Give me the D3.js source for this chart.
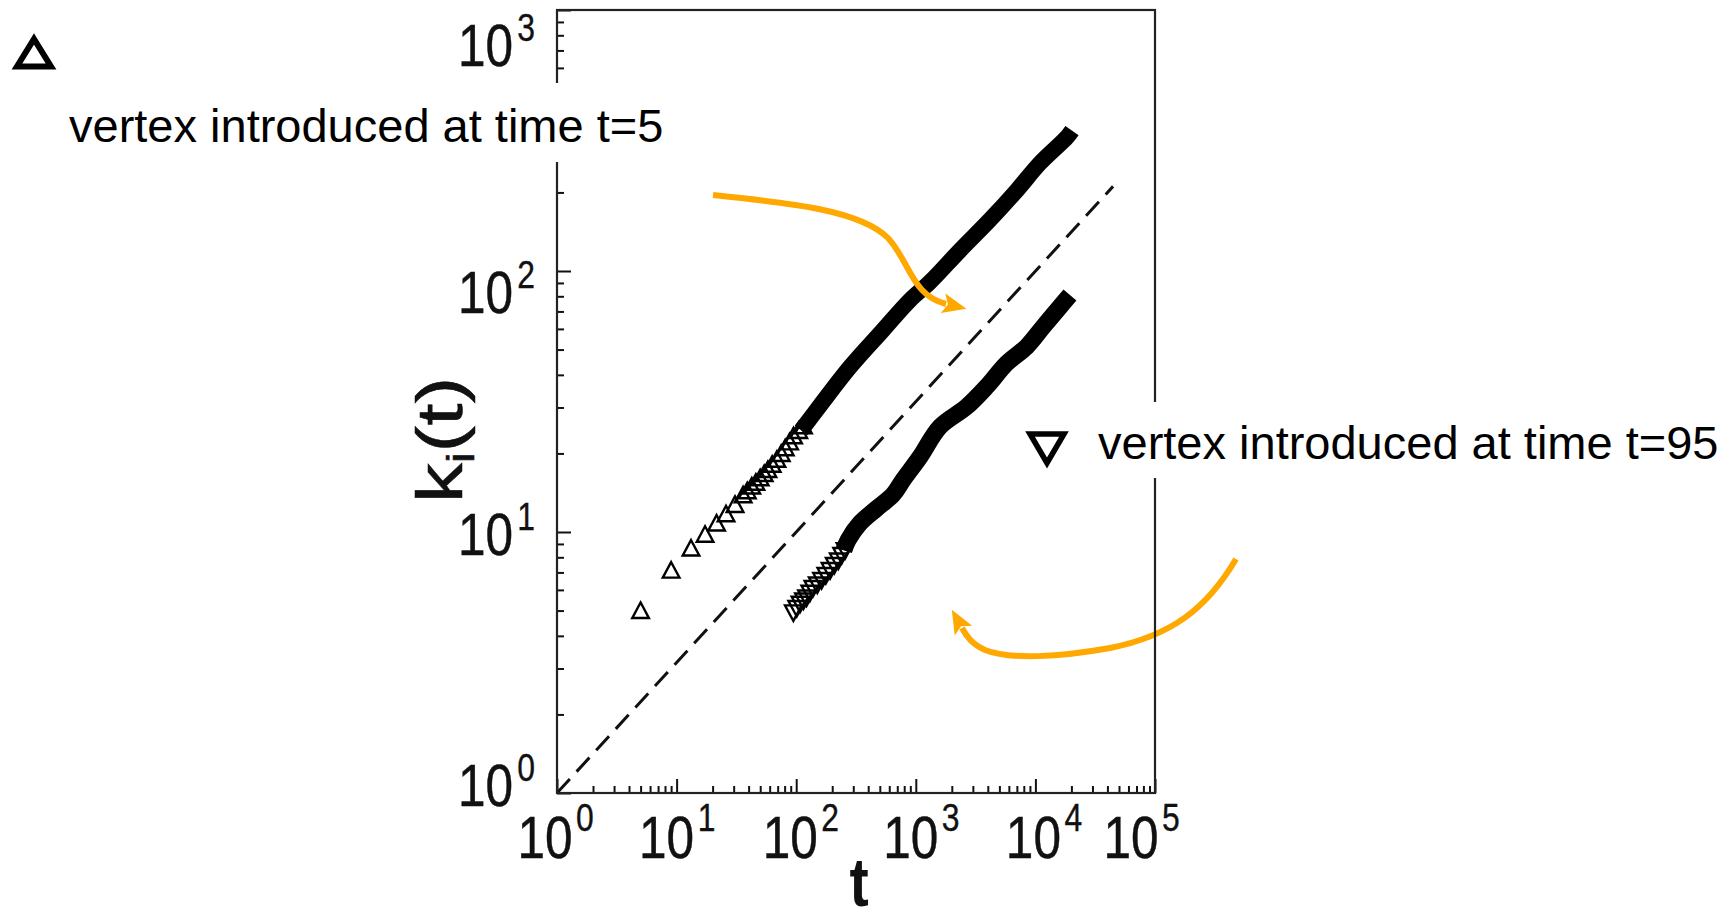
<!DOCTYPE html>
<html><head><meta charset="utf-8">
<script src="https://cdn.jsdelivr.net/npm/d3@7"></script>
<style>body{margin:0;background:#fff;} svg{display:block;font-family:"Liberation Sans",Arial,sans-serif;}</style>
</head><body>
<svg id="c" width="1735" height="921"></svg>
<script>
// ---------- data ----------
const xTickExps = [0, 1, 2, 3, 4, 5];
const yTickExps = [0, 1, 2, 3];
// vertex introduced at t=5 : individual markers (t, k)
const earlyMarkers = [[5,4.9],[9,7.0],[13.2,8.5],[17.3,9.6],[21.6,10.6],[25.9,11.5],[30.8,12.5],
  [36,13.6],[39,14.1],[42.5,14.7],[46,15.2],[50,15.8],[54,16.4],[58,17.0],[63,17.8],[69,18.6],
  [75,19.6],[81,20.6],[88,21.7],[95,22.9],[105,24.0],[115,25.0]];
// vertex introduced at t=5 : dense (overlapping markers) band centre (t, k)
const earlyBand = [[110,24.5],[158,30.5],[282,42.9],[532,59.4],[895,77.4],[1315,90.7],[2343,120],
  [4170,157],[7015,204],[10920,259],[18370,326],[20230,345]];
// vertex introduced at t=95 : individual markers
const lateMarkers = [[94.6,5.0],[101,5.2],[107.6,5.4],[115,5.55],[122,5.7],[130,5.95],[138,6.2],
  [150,6.4],[163,6.65],[177,6.95],[192,7.26],[208,7.6],[225,7.9],[240,8.3],[256,8.66]];
const lateBand = [[250,8.5],[271,9.3],[341,10.8],[471,12.3],[645,13.9],[781,15.8],[1084,19.4],
  [1593,25.3],[2667,30.2],[3920,36.1],[5757,44.3],[8455,51.3],[11640,61.2],[16060,73.0],[19450,80.9]];
// dashed reference line k ~ t^0.5
const refLine = [[1,1],[44600,211]];
const labelEarly = "vertex introduced at time t=5";
const labelLate = "vertex introduced at time t=95";
const xAxisTitle = "t";

// ---------- layout ----------
const L = 557, R = 1155, T = 10, B = 793;
const svg = d3.select("#c");
const x = d3.scaleLog().domain([1, 1e5]).range([L, R]);
const y = d3.scaleLog().domain([1, 1e3]).range([B, T]);
const ink = "#111";
const orange = "#FFA800";

const majorX = xTickExps.map(e => Math.pow(10, e));
const majorY = yTickExps.map(e => Math.pow(10, e));
const minorX = [], minorY = [];
xTickExps.slice(0, -1).forEach(e => { for (let m = 2; m <= 9; m++) minorX.push(m * Math.pow(10, e)); });
yTickExps.slice(0, -1).forEach(e => { for (let m = 2; m <= 9; m++) minorY.push(m * Math.pow(10, e)); });

// ---------- data marks ----------
const line = d3.line().x(d => x(d[0])).y(d => y(d[1]));
const smooth = d3.line().x(d => x(d[0])).y(d => y(d[1])).curve(d3.curveCatmullRom.alpha(0.5));

svg.append("path").attr("d", line(refLine))
  .attr("fill", "none").attr("stroke", ink).attr("stroke-width", 3)
  .attr("stroke-dasharray", "19,10");

svg.append("path").attr("d", smooth(earlyBand))
  .attr("fill", "none").attr("stroke", "#000").attr("stroke-width", 16)
  .attr("stroke-linejoin", "round").attr("stroke-linecap", "butt");
svg.append("path").attr("d", smooth(lateBand))
  .attr("fill", "none").attr("stroke", "#000").attr("stroke-width", 17)
  .attr("stroke-linejoin", "round").attr("stroke-linecap", "butt");

const tri = d3.symbol().type(d3.symbolTriangle).size(120);
svg.append("g").selectAll("path").data(earlyMarkers).join("path")
  .attr("d", tri)
  .attr("transform", d => `translate(${x(d[0])},${y(d[1])}) scale(1,1.08)`)
  .attr("fill", "none").attr("stroke", "#000").attr("stroke-width", 2.3);
svg.append("g").selectAll("path").data(lateMarkers).join("path")
  .attr("d", tri)
  .attr("transform", d => `translate(${x(d[0])},${y(d[1])}) rotate(180) scale(1,1.08)`)
  .attr("fill", "none").attr("stroke", "#000").attr("stroke-width", 2.3);

// ---------- orange arrows ----------
const defs = svg.append("defs");
defs.append("marker").attr("id", "ah").attr("markerUnits", "userSpaceOnUse")
  .attr("markerWidth", 30).attr("markerHeight", 26).attr("refX", 3).attr("refY", 12)
  .attr("orient", "auto").attr("viewBox", "0 0 30 24")
  .append("path").attr("d", "M0,2 L24,12 L0,22 L5,12 Z").attr("fill", orange);

svg.append("path")
  .attr("d", "M713,195 C790,203 860,210 888,238 C910,262 912,296 946,304")
  .attr("fill", "none").attr("stroke", orange).attr("stroke-width", 6)
  .attr("marker-end", "url(#ah)");
svg.append("path")
  .attr("d", "M1236,559 C1206,610 1170,636 1110,648 C1060,657 1010,660 985,650 C972,644 967,637 962,628")
  .attr("fill", "none").attr("stroke", orange).attr("stroke-width", 6)
  .attr("marker-end", "url(#ah)");

// ---------- axes ----------
const axG = svg.append("g");
function addAxis(gen, ticks, size, transform) {
  const g = axG.append("g").attr("transform", transform)
    .call(gen.tickValues(ticks).tickSize(-size).tickSizeOuter(0).tickFormat(""));
  g.select(".domain").remove();
  g.selectAll(".tick line").attr("stroke", ink).attr("stroke-width", 2);
}
addAxis(d3.axisBottom(x), majorX, 14, `translate(0,${B})`);
addAxis(d3.axisBottom(x), minorX, 7, `translate(0,${B})`);
addAxis(d3.axisLeft(y), majorY, 14, `translate(${L},0)`);
addAxis(d3.axisLeft(y), minorY, 7, `translate(${L},0)`);
axG.append("rect").attr("x", L).attr("y", T).attr("width", R - L).attr("height", B - T)
  .attr("fill", "none").attr("stroke", "#222").attr("stroke-width", 2.2);

// tick labels (the scanned figure's text is vertically stretched)
const xLabelShift = [-12, -10, -6, -5, -2, -24];
xTickExps.forEach((e, i) => {
  const g = svg.append("g").attr("transform", `translate(${x(Math.pow(10, e)) + xLabelShift[i]},858) scale(0.84,1)`);
  g.append("text").attr("font-size", 59).attr("fill", ink).attr("stroke", ink).attr("stroke-width", 0.45)
    .attr("text-anchor", "middle").text("10");
  g.append("text").attr("x", 37).attr("y", -27).attr("font-size", 38).attr("fill", ink)
    .attr("stroke", ink).attr("stroke-width", 0.35).text(String(e));
});
const yLabelShift = [13, 23, 42, 56];
yTickExps.forEach((e, i) => {
  const g = svg.append("g").attr("transform", `translate(513,${y(Math.pow(10, e)) + yLabelShift[i]}) scale(0.84,1)`);
  g.append("text").attr("font-size", 59).attr("fill", ink).attr("stroke", ink).attr("stroke-width", 0.45)
    .attr("text-anchor", "end").text("10");
  g.append("text").attr("x", 5).attr("y", -25).attr("font-size", 38).attr("fill", ink)
    .attr("stroke", ink).attr("stroke-width", 0.35).text(String(e));
});

// axis titles
svg.append("g").attr("transform", "translate(859,906) scale(0.85,1)")
  .append("text").attr("text-anchor", "middle").attr("font-size", 68).attr("font-weight", "bold")
  .attr("fill", ink).text(xAxisTitle);
const yt = svg.append("g").attr("transform", "translate(462,440) rotate(-90) scale(1.25,1)")
  .append("text").attr("text-anchor", "middle").attr("font-size", 64).attr("fill", ink)
  .attr("stroke", ink).attr("stroke-width", 0.5);
yt.append("tspan").text("k");
yt.append("tspan").attr("font-size", 38).attr("dy", 12).text("i");
yt.append("tspan").attr("dy", -12).text("(t)");

// ---------- annotations ----------
svg.append("rect").attr("x", 58).attr("y", 83).attr("width", 622).attr("height", 79).attr("fill", "#fff");
svg.append("rect").attr("x", 1020).attr("y", 402).attr("width", 715).attr("height", 76).attr("fill", "#fff");

svg.append("text").attr("x", 69).attr("y", 142).attr("font-size", 47).attr("fill", "#000").text(labelEarly);
svg.append("text").attr("x", 1098).attr("y", 459).attr("font-size", 47).attr("fill", "#000").text(labelLate);

svg.append("path").attr("d", "M34,39 L51,66.5 L17,66.5 Z")
  .attr("fill", "none").attr("stroke", "#000").attr("stroke-width", 6).attr("stroke-linejoin", "miter");
svg.append("path").attr("d", "M1030,434 L1064,434 L1047,463 Z")
  .attr("fill", "none").attr("stroke", "#000").attr("stroke-width", 5.5).attr("stroke-linejoin", "miter");
</script>
</body></html>
